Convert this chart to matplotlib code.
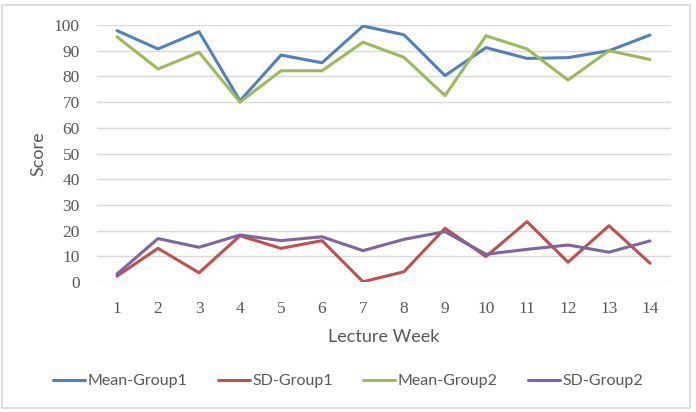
import matplotlib
matplotlib.use("Agg")
import matplotlib.pyplot as plt
from matplotlib.patches import Rectangle

weeks = list(range(1, 15))
mean_group1 = [97.8, 90.7, 97.4, 70.5, 88.3, 85.3, 99.6, 96.2, 80.3, 91.2, 87.0, 87.3, 90.0, 96.1]
sd_group1 = [2.3, 13.1, 3.6, 18.0, 13.1, 16.1, 0.1, 4.0, 20.9, 9.9, 23.5, 7.7, 21.9, 7.3]
mean_group2 = [95.4, 82.9, 89.4, 70.0, 82.2, 82.2, 93.3, 87.4, 72.5, 95.8, 90.7, 78.6, 90.0, 86.6]
sd_group2 = [3.1, 16.9, 13.5, 18.3, 16.1, 17.6, 12.2, 16.6, 19.6, 10.8, 12.7, 14.4, 11.6, 16.0]

series = [
    ("Mean-Group1", mean_group1, "#4F81BD"),
    ("SD-Group1", sd_group1, "#C0504D"),
    ("Mean-Group2", mean_group2, "#9BBB59"),
    ("SD-Group2", sd_group2, "#8064A2"),
]

W, H = 696, 412
fig = plt.figure(figsize=(W / 100, H / 100), dpi=100)
fig.patches.append(Rectangle((2 / W, 4 / H), 688 / W, 403 / H, transform=fig.transFigure,
                             fill=False, edgecolor="#D9D9D9", linewidth=1.2))

ax = fig.add_axes([96.5 / W, (H - 282) / H, (670.5 - 96.5) / W, (282 - 25) / H])
for name, vals, col in series:
    ax.plot(weeks, vals, color=col, linewidth=2.2, label=name, solid_capstyle="round")

ax.set_xlim(0.5, 14.5)
ax.set_ylim(0, 100)
ax.set_yticks(range(0, 101, 10))
ax.set_xticks(weeks)
ax.grid(axis="y", color="#D9D9D9", linewidth=1)
ax.set_axisbelow(True)
for s in ax.spines.values():
    s.set_visible(False)
ax.tick_params(length=0, colors="#595959", pad=12)
ax.tick_params(axis="x", pad=14)
for lab in ax.get_xticklabels() + ax.get_yticklabels():
    lab.set_family("Liberation Serif")
    lab.set_fontsize(12.5)

ax.set_xlabel("Lecture Week", fontsize=13, color="#595959", family="Lato", labelpad=8)
ax.set_ylabel("Score", fontsize=13, color="#595959", family="Lato", labelpad=5)

leg = fig.legend(loc="center", bbox_to_anchor=(0.5, (H - 381) / H), ncol=4, frameon=False,
                 prop={"family": "Lato", "size": 11.5}, handlelength=2.0, columnspacing=1.9,
                 handletextpad=0.15)
for t in leg.get_texts():
    t.set_color("#595959")

fig.savefig("out.png", dpi=100)
